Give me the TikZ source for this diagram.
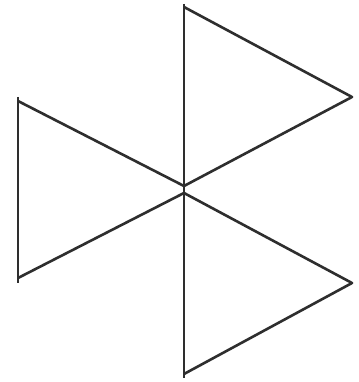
\documentclass[tikz,border=0pt]{standalone}
\begin{document}
\begin{tikzpicture}[x=1pt,y=-1pt,
  stroke/.style={draw=black!82,line width=2.6pt,line join=round}]
\useasboundingbox[fill=white] (0,0) rectangle (358,382);
% coordinates (pixel units, y downwards)
\coordinate (vtop) at (184,4);
\coordinate (vbot) at (184,378);
\coordinate (trtop) at (184,7);
\coordinate (trapex) at (352,97);
\coordinate (cup) at (184,186);
\coordinate (cdn) at (184,193);
\coordinate (ltop) at (18,101);
\coordinate (lbot) at (18,278);
\coordinate (ltopend) at (18,97);
\coordinate (lbotend) at (18,283);
\coordinate (brapex) at (352,283);
\coordinate (brbot) at (184,374);
% vertical axis
\draw[stroke] (vtop) -- (vbot);
% upper right triangle and upper left edge
\draw[stroke] (trtop) -- (trapex) -- (cup) -- (ltop);
% left vertical side
\draw[stroke] (ltopend) -- (lbotend);
% lower left edge and lower right triangle
\draw[stroke] (lbot) -- (cdn) -- (brapex) -- (brbot);
\end{tikzpicture}
\end{document}
